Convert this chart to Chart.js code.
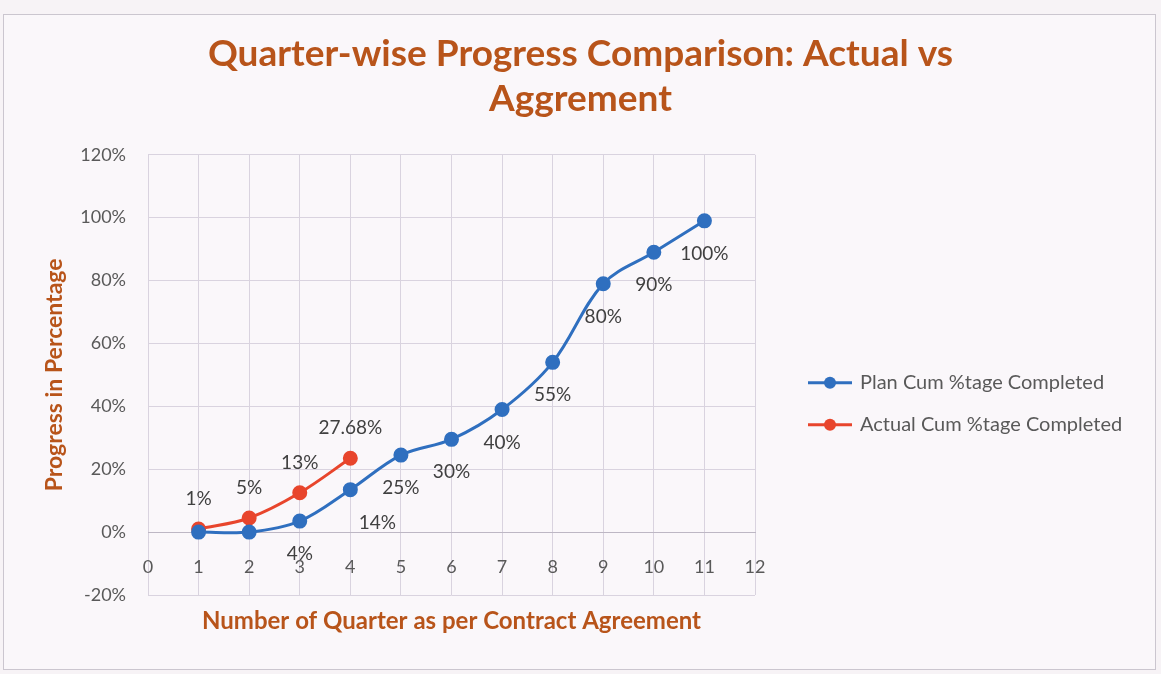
<!DOCTYPE html>
<html>
<head>
<meta charset="utf-8">
<script src="https://cdn.jsdelivr.net/npm/chart.js@4.4.1/dist/chart.umd.min.js"></script>
<style>
  html, body { margin: 0; padding: 0; background: #f7f3f6; }
  #wrap { width: 1161px; height: 674px; }
</style>
</head>
<body>
<div id="wrap"><canvas id="progressChart" width="1161" height="674"></canvas></div>
<script>
// values
const planQuarters = [1, 2, 3, 4, 5, 6, 7, 8, 9, 10, 11];
const planValues = [0, 0, 3.5, 13.5, 24.5, 29.5, 39, 54, 79, 89, 99];
const planLabels = ["", "", "4%", "14%", "25%", "30%", "40%", "55%", "80%", "90%", "100%"];

const actualQuarters = [1, 2, 3, 4];
const actualValues = [1, 4.5, 12.5, 23.5];
const actualLabels = ["1%", "5%", "13%", "27.68%"];

const xTicks = [0, 1, 2, 3, 4, 5, 6, 7, 8, 9, 10, 11, 12];
const yTicks = [-20, 0, 20, 40, 60, 80, 100, 120];

const titleLines = ["Quarter-wise Progress Comparison: Actual vs", "Aggrement"];
const xTitle = "Number of Quarter as per Contract Agreement";
const yTitle = "Progress in Percentage";

const blue = "#2f6fbf";
const red = "#e8452c";
const orange = "#b8541a";

function toPoints(xs, ys) {
    return xs.map((x, i) => ({ x: x, y: ys[i] }));
}

// chart frame
const frame = {
    id: "frame",
    beforeDraw(chart) {
        const ctx = chart.ctx;
        ctx.save();
        ctx.fillStyle = "#faf7fa";
        ctx.fillRect(3, 14, 1152, 655);
        ctx.strokeStyle = "#cbc6cf";
        ctx.lineWidth = 1;
        ctx.strokeRect(3.5, 14.5, 1152, 655);
        ctx.restore();
    }
};

// data labels, x axis title and the legend on the right
const extras = {
    id: "extras",
    afterDatasetsDraw(chart) {
        const ctx = chart.ctx;
        const a = chart.chartArea;
        ctx.save();
        ctx.font = "19px Lato";
        ctx.fillStyle = "#404040";
        ctx.textAlign = "center";
        ctx.textBaseline = "middle";
        chart.getDatasetMeta(0).data.forEach((p, i) => {
            const dx = i === 3 ? 27 : 0;
            ctx.fillText(planLabels[i], p.x + dx, p.y + 33);
        });
        chart.getDatasetMeta(1).data.forEach((p, i) => {
            ctx.fillText(actualLabels[i], p.x, p.y - 30);
        });

        ctx.font = "bold 24px Lato";
        ctx.fillStyle = orange;
        ctx.fillText(xTitle, (a.left + a.right) / 2, a.bottom + 26);

        // legend
        ctx.font = "20px Lato";
        ctx.textAlign = "left";
        chart.data.datasets.forEach((d, i) => {
            const lx = a.right + 53;
            const ly = a.top + 228 + i * 42;
            ctx.strokeStyle = d.borderColor;
            ctx.lineWidth = 3;
            ctx.beginPath(); ctx.moveTo(lx, ly); ctx.lineTo(lx + 44, ly); ctx.stroke();
            ctx.fillStyle = d.borderColor;
            ctx.beginPath(); ctx.arc(lx + 22, ly, 6, 0, Math.PI * 2); ctx.fill();
            ctx.fillStyle = "#595959";
            ctx.fillText(d.label, lx + 52, ly);
        });
        ctx.restore();
    }
};

function draw() {
    const ctx = document.getElementById("progressChart");
    const progressChart = new Chart(ctx, {
        type: "line",
        data: {
            datasets: [{
                label: "Plan Cum %tage Completed",
                data: toPoints(planQuarters, planValues),
                borderColor: blue,
                backgroundColor: blue,
                borderWidth: 3,
                pointRadius: 6,
                pointHoverRadius: 6,
                tension: 0.35
            }, {
                label: "Actual Cum %tage Completed",
                data: toPoints(actualQuarters, actualValues),
                borderColor: red,
                backgroundColor: red,
                borderWidth: 3,
                pointRadius: 6,
                pointHoverRadius: 6,
                tension: 0.35
            }]
        },
        options: {
            responsive: false,
            animation: false,
            layout: {
                padding: { left: 0, top: 8, right: 0, bottom: 79 }
            },
            plugins: {
                title: {
                    display: true,
                    text: titleLines,
                    color: orange,
                    font: { family: "Lato", size: 37, weight: "bold", lineHeight: 1.2 },
                    padding: { top: 24, bottom: 34 }
                },
                legend: { display: false },
                tooltip: { enabled: false }
            },
            scales: {
                x: {
                    type: "linear",
                    position: { y: 0 },
                    min: 0,
                    max: 12,
                    afterBuildTicks(scale) {
                        scale.ticks = xTicks.map(v => ({ value: v }));
                    },
                    grid: { color: "#d9d3df", drawTicks: false },
                    border: { color: "#bdb7c4" },
                    ticks: {
                        color: "#595959",
                        font: { family: "Lato", size: 18 },
                        padding: 24
                    }
                },
                y: {
                    min: -20,
                    max: 120,
                    afterBuildTicks(scale) {
                        scale.ticks = yTicks.map(v => ({ value: v }));
                    },
                    afterFit(scale) {
                        scale.width = 148;
                    },
                    grid: { color: "#d9d3df", drawTicks: false },
                    border: { display: false },
                    title: {
                        display: true,
                        text: yTitle,
                        color: orange,
                        font: { family: "Lato", size: 23, weight: "bold" },
                        padding: { top: 41, bottom: 0 }
                    },
                    ticks: {
                        color: "#595959",
                        font: { family: "Lato", size: 18 },
                        padding: 22,
                        callback: v => v + "%"
                    }
                },
                // empty right axis that keeps room for the legend
                legendSpace: {
                    type: "linear",
                    position: "right",
                    display: true,
                    afterFit(scale) {
                        scale.width = 406;
                    },
                    grid: { display: false },
                    border: { display: false },
                    ticks: { display: false }
                }
            }
        },
        plugins: [frame, extras]
    });
}

Promise.all([
    document.fonts.load("18px Lato"),
    document.fonts.load("bold 24px Lato")
]).then(draw, draw);
</script>
</body>
</html>
